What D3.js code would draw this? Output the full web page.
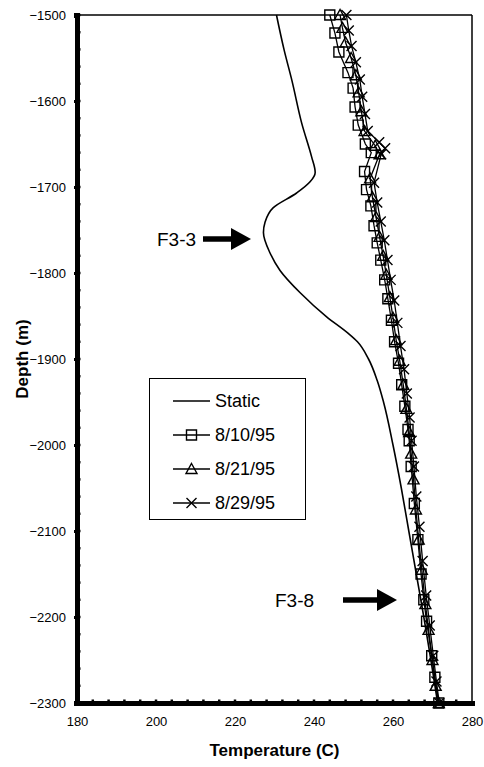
<!DOCTYPE html>
<html>
<head>
<meta charset="utf-8">
<script src="https://cdn.jsdelivr.net/npm/d3@7"></script>
<style>
  body { margin: 0; background: #fff; }
  svg { display: block; font-family: Arial, "Liberation Sans", sans-serif; }
</style>
</head>
<body>
<svg id="chart" width="484" height="767"></svg>
<script>
// Temperature profiles (depth in m, temperature in C)
const staticDepth = [-1500,-1540,-1576,-1626,-1665,-1683,-1694,-1707,-1724,-1741,-1753,-1777,-1797,-1823,-1851,-1870,-1880,-1900,-1925,-1950,-2000,-2050,-2100,-2150,-2200,-2250,-2300];
const staticTemp  = [230.5,232.4,234.4,236.9,239.4,240.3,239.0,235.6,229.7,227.6,227.2,228.9,231.4,236.5,243.2,248.6,251.0,253.8,256.0,257.6,260.0,262.1,264.0,265.9,267.8,269.6,271.3];

const aug10Depth = [-1500,-1521,-1543,-1567,-1585,-1607,-1628,-1650,-1660,-1682,-1703,-1722,-1745,-1765,-1785,-1808,-1830,-1855,-1880,-1905,-1930,-1955,-1982,-1995,-2025,-2068,-2110,-2150,-2180,-2205,-2245,-2270,-2300];
const aug10Temp  = [244.0,245.3,246.3,248.6,249.9,250.4,251.2,253.0,254.5,252.8,253.3,254.4,255.2,256.0,256.9,257.9,258.7,259.6,260.4,261.4,262.2,263.0,263.8,264.1,264.6,265.4,266.3,267.1,267.8,268.5,269.8,270.6,271.6];

const aug21Depth = [-1500,-1515,-1532,-1550,-1570,-1590,-1612,-1635,-1652,-1662,-1690,-1712,-1735,-1758,-1780,-1802,-1828,-1852,-1878,-1902,-1930,-1958,-1985,-2010,-2040,-2075,-2110,-2145,-2185,-2215,-2250,-2280,-2300];
const aug21Temp  = [246.6,247.2,248.0,249.4,250.6,251.3,252.0,252.8,255.5,256.6,254.2,254.8,255.7,256.6,257.5,258.3,259.2,260.0,260.8,261.7,262.6,263.4,264.1,264.6,265.2,265.8,266.5,267.3,268.2,269.0,270.0,270.8,271.6];

const aug29Depth = [-1500,-1518,-1536,-1555,-1575,-1595,-1615,-1635,-1648,-1655,-1662,-1695,-1718,-1740,-1762,-1785,-1808,-1832,-1858,-1885,-1912,-1940,-1968,-1995,-2025,-2060,-2095,-2135,-2175,-2210,-2245,-2275,-2300];
const aug29Temp  = [248.2,248.8,249.5,250.6,251.6,252.2,252.9,253.6,256.5,258.0,257.0,255.2,256.0,256.9,257.8,258.6,259.4,260.3,261.1,261.9,262.8,263.5,264.2,264.7,265.3,265.9,266.7,267.5,268.4,269.3,270.2,271.0,271.7];

const xTicks = [180, 200, 220, 240, 260, 280];
const yTicks = [-1500, -1600, -1700, -1800, -1900, -2000, -2100, -2200, -2300];
const legendLabels = ["Static", "8/10/95", "8/21/95", "8/29/95"];

const svg = d3.select("#chart");
const x = d3.scaleLinear().domain([180, 280]).range([77, 472]);
const y = d3.scaleLinear().domain([-1500, -2300]).range([15, 703]);

// frame: thin top and right edges
svg.append("line").attr("x1", x(180)).attr("x2", x(280)).attr("y1", y(-1500)).attr("y2", y(-1500))
  .attr("stroke", "#000").attr("stroke-width", 1.5);
svg.append("line").attr("x1", x(280)).attr("x2", x(280)).attr("y1", y(-1500)).attr("y2", y(-2300))
  .attr("stroke", "#000").attr("stroke-width", 1.5);

// heavy left axis with minor ticks
const yAxis = d3.axisLeft(y).tickValues(yTicks).tickSize(3).tickPadding(8).tickFormat(d3.format("d"));
const gy = svg.append("g").attr("transform", `translate(${x(180)},0)`).call(yAxis);
gy.select(".domain").attr("stroke-width", 5);
gy.selectAll(".tick line").attr("stroke-width", 3);
gy.selectAll(".tick text").attr("font-size", 13).attr("fill", "#000")
  .attr("font-family", "Arial, 'Liberation Sans', sans-serif");
svg.append("g").selectAll("line").data(d3.range(-1500, -2300, -20))
  .join("line").attr("x1", x(180)).attr("x2", x(180) + 3.5)
  .attr("y1", d => y(d)).attr("y2", d => y(d)).attr("stroke", "#000").attr("stroke-width", 2.5);

// heavy bottom axis with minor ticks
const xAxis = d3.axisBottom(x).tickValues(xTicks).tickSize(3).tickPadding(11);
const gx = svg.append("g").attr("transform", `translate(0,${y(-2300)})`).call(xAxis);
gx.select(".domain").attr("stroke-width", 5);
gx.selectAll(".tick line").attr("stroke-width", 3);
gx.selectAll(".tick text").attr("font-size", 13).attr("fill", "#000")
  .attr("font-family", "Arial, 'Liberation Sans', sans-serif");
svg.append("g").selectAll("line").data(d3.range(180, 280, 4))
  .join("line").attr("x1", d => x(d)).attr("x2", d => x(d))
  .attr("y1", y(-2300)).attr("y2", y(-2300) - 3.5).attr("stroke", "#000").attr("stroke-width", 2.5);

// axis titles
svg.append("text").attr("x", (x(180) + x(280)) / 2).attr("y", 756).attr("text-anchor", "middle")
  .attr("font-size", 17).attr("font-weight", "bold").text("Temperature (C)");
svg.append("text").attr("transform", `translate(28,${(y(-1500) + y(-2300)) / 2}) rotate(-90)`)
  .attr("text-anchor", "middle").attr("font-size", 17).attr("font-weight", "bold").text("Depth (m)");

// profiles
const pts = (ds, ts) => ds.map((d, i) => [x(ts[i]), y(d)]);
svg.append("path").datum(pts(staticDepth, staticTemp))
  .attr("d", d3.line().curve(d3.curveMonotoneY))
  .attr("fill", "none").attr("stroke", "#000").attr("stroke-width", 1.6);

const series = [
  { d: aug10Depth, t: aug10Temp, m: "square" },
  { d: aug21Depth, t: aug21Temp, m: "triangle" },
  { d: aug29Depth, t: aug29Temp, m: "cross" }
];
const markerPath = {
  square: "M-5,-5H5V5H-5Z",
  triangle: "M0,-5.5L5.5,4.5H-5.5Z",
  cross: "M-5,-5L5,5M5,-5L-5,5"
};
series.forEach(s => {
  const p = pts(s.d, s.t);
  svg.append("path").datum(p).attr("d", d3.line())
    .attr("fill", "none").attr("stroke", "#000").attr("stroke-width", 1.3);
  svg.append("g").selectAll("path").data(p).join("path")
    .attr("transform", q => `translate(${q[0]},${q[1]})`)
    .attr("d", markerPath[s.m]).attr("fill", "none").attr("stroke", "#000").attr("stroke-width", 1.4);
});

// legend
const lg = svg.append("g");
lg.append("rect").attr("x", 149.5).attr("y", 378.5).attr("width", 156).attr("height", 141)
  .attr("fill", "#fff").attr("stroke", "#000").attr("stroke-width", 1);
const rowY = [401, 435, 469, 503];
legendLabels.forEach((lab, i) => {
  lg.append("line").attr("x1", 173).attr("x2", 210).attr("y1", rowY[i]).attr("y2", rowY[i])
    .attr("stroke", "#000").attr("stroke-width", 1.5);
  if (i > 0) {
    lg.append("path").attr("transform", `translate(191.5,${rowY[i]})`)
      .attr("d", markerPath[series[i - 1].m]).attr("fill", "none").attr("stroke", "#000").attr("stroke-width", 1.4);
  }
  lg.append("text").attr("x", 215).attr("y", rowY[i]).attr("dy", "0.35em")
    .attr("font-size", 18).text(lab);
});

// zone annotations
function arrow(x0, x1, yy) {
  const g = svg.append("g");
  g.append("line").attr("x1", x0).attr("x2", x1 - 16).attr("y1", yy).attr("y2", yy)
    .attr("stroke", "#000").attr("stroke-width", 5.5);
  g.append("path").attr("d", `M${x1},${yy}L${x1 - 20},${yy - 11}L${x1 - 20},${yy + 11}Z`).attr("fill", "#000");
}
svg.append("text").attr("x", 157).attr("y", 239).attr("dy", "0.35em").attr("font-size", 19).text("F3-3");
arrow(203, 251, 239);
svg.append("text").attr("x", 275).attr("y", 600).attr("dy", "0.35em").attr("font-size", 19).text("F3-8");
arrow(343, 397, 600);
</script>
</body>
</html>
